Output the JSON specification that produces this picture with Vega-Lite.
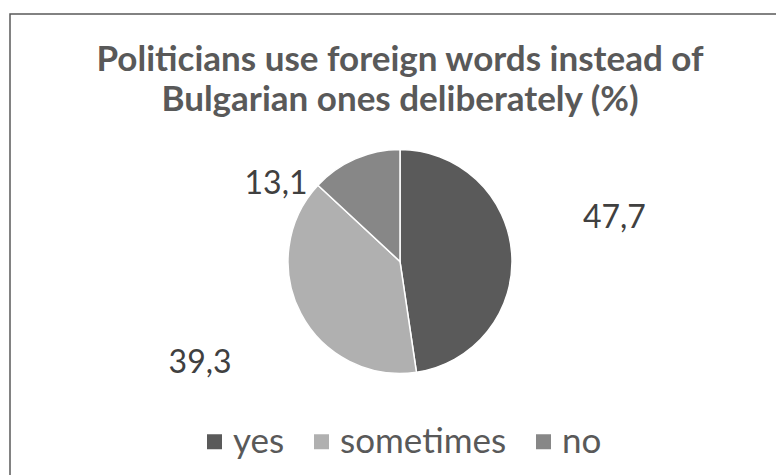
{
  "$schema": "https://vega.github.io/schema/vega-lite/v6.json",
  "width": 780,
  "height": 495,
  "autosize": "none",
  "padding": {"left": 10, "top": 14, "right": -14, "bottom": -34},
  "background": "white",
  "view": {"stroke": "#595959", "strokeWidth": 1.5, "fill": "white"},
  "config": {
    "locale": {"number": {"decimal": ",", "thousands": " ", "grouping": [3], "currency": ["", ""]}}
  },
  "title": {
    "text": ["Politicians use foreign words instead of", "Bulgarian ones deliberately (%)"],
    "font": "Lato",
    "fontWeight": "bold",
    "fontSize": 35,
    "lineHeight": 40,
    "color": "#595959",
    "anchor": "middle",
    "baseline": "top",
    "offset": -104
  },
  "data": {
    "values": [
      {"answer": "yes", "percent": 47.7, "rank": 1},
      {"answer": "sometimes", "percent": 39.3, "rank": 2},
      {"answer": "no", "percent": 13.1, "rank": 3}
    ]
  },
  "encoding": {
    "theta": {"field": "percent", "type": "quantitative", "stack": true},
    "order": {"field": "rank", "type": "ordinal"}
  },
  "layer": [
    {
      "mark": {"type": "arc", "outerRadius": 112, "stroke": "white", "strokeWidth": 1.5},
      "encoding": {
        "color": {
          "field": "answer",
          "type": "nominal",
          "scale": {"domain": ["yes", "sometimes", "no"], "range": ["#5a5a5a", "#b0b0b0", "#878787"]},
          "legend": {
            "orient": "none",
            "legendX": 187,
            "legendY": 410,
            "direction": "horizontal",
            "title": null,
            "padding": 0,
            "symbolType": "square",
            "symbolSize": 225,
            "symbolStrokeWidth": 0,
            "labelFont": "Lato",
            "labelFontSize": 35,
            "labelColor": "#595959",
            "labelLimit": 400,
            "labelOffset": 1,
            "columnPadding": 19
          }
        }
      }
    },
    {
      "mark": {"type": "text", "radius": 215, "dy": -28, "font": "Lato", "fontSize": 32},
      "encoding": {
        "text": {"condition": {"test": "datum.answer == 'yes'", "field": "percent", "type": "quantitative", "format": ".1f"}, "value": ""},
        "detail": {"field": "answer", "type": "nominal"},
        "color": {"value": "#404040"}
      }
    },
    {
      "mark": {"type": "text", "radius": 226, "dy": -4, "font": "Lato", "fontSize": 32},
      "encoding": {
        "text": {"condition": {"test": "datum.answer == 'sometimes'", "field": "percent", "type": "quantitative", "format": ".1f"}, "value": ""},
        "detail": {"field": "answer", "type": "nominal"},
        "color": {"value": "#404040"}
      }
    },
    {
      "mark": {"type": "text", "radius": 85, "dx": -90, "font": "Lato", "fontSize": 32},
      "encoding": {
        "text": {"condition": {"test": "datum.answer == 'no'", "field": "percent", "type": "quantitative", "format": ".1f"}, "value": ""},
        "detail": {"field": "answer", "type": "nominal"},
        "color": {"value": "#404040"}
      }
    }
  ]
}
